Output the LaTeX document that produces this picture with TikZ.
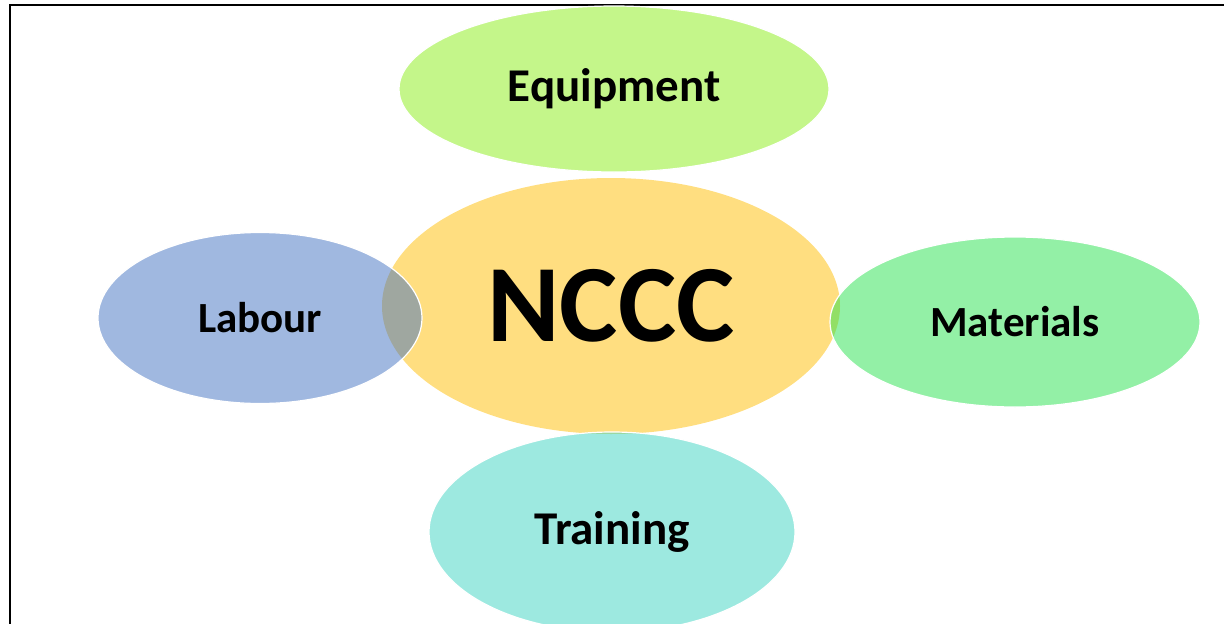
\documentclass[tikz,border=0pt]{standalone}
\usepackage{fontspec}
\setmainfont{Carlito}
\usetikzlibrary{shapes.geometric}
\definecolor{coreyellow}{HTML}{FFDE80}
\definecolor{equipgreen}{HTML}{89ED15}
\definecolor{labourblue}{HTML}{4171C1}
\definecolor{matgreen}{HTML}{27E14D}
\definecolor{traincyan}{HTML}{3BD3C1}
\tikzset{
	blob/.style={ellipse, inner sep=0pt, fill opacity=0.5, text opacity=1,
		draw=white, draw opacity=1, line width=1.2pt, font=\bfseries},
	big/.style={font=\bfseries\fontsize{110}{120}\selectfont},
	mid/.style={font=\bfseries\fontsize{47}{56}\selectfont},
	small/.style={font=\bfseries\fontsize{43}{52}\selectfont}
}
\begin{document}
\begin{tikzpicture}[x=1pt, y=-1pt]
	\useasboundingbox (0,0) rectangle (1224,624);
	% Rahmen
	\draw[line width=1.5pt] (10,630) -- (10,5) -- (1230,5);
	% Mitte
	\node[ellipse, fill=coreyellow, minimum width=458pt, minimum height=256pt, big]
		(nccc) at (611,306) {NCCC};
	% Aussen
	\node[blob, fill=equipgreen, minimum width=430pt, minimum height=166pt, mid]
		(equipment) at (614,89) {Equipment};
	\node[blob, fill=labourblue, minimum width=324pt, minimum height=171pt, small]
		(labour) at (260,318) {Labour};
	\node[blob, fill=matgreen, minimum width=370pt, minimum height=170pt, small]
		(materials) at (1015,322) {Materials};
	\node[blob, fill=traincyan, minimum width=366pt, minimum height=200pt, mid]
		(training) at (612,532) {Training};
\end{tikzpicture}
\end{document}
